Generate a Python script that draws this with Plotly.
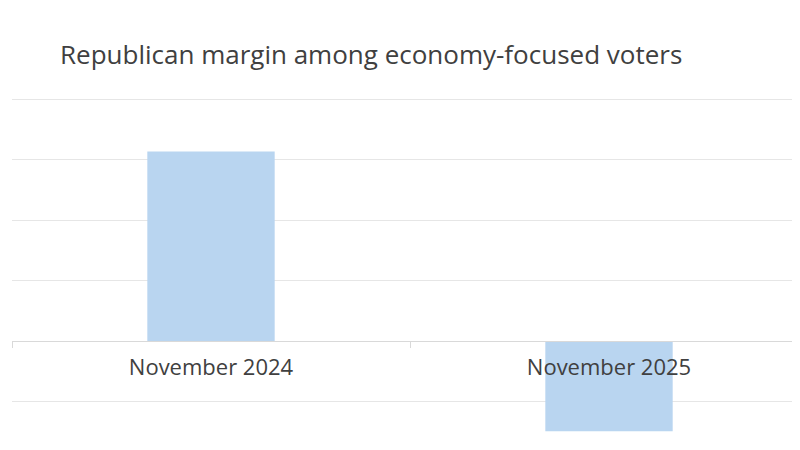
import plotly.graph_objects as go

periods = ["November 2024", "November 2025"]
margin_values = [31.4, -14.9]

fig = go.Figure(go.Bar(
    x=periods, y=margin_values,
    marker=dict(color="#b9d5f0", line=dict(width=0)),
))

fig.update_layout(
    width=800, height=450,
    title=dict(text="Republican margin among economy-focused voters",
               x=0.065, xanchor="left", y=0.895, yanchor="middle",
               font=dict(family="Open Sans, sans-serif", size=26, color="#404040")),
    margin=dict(l=4, r=0, t=89, b=20),
    bargap=0.68,
    plot_bgcolor="white", paper_bgcolor="white",
    showlegend=False,
    font=dict(family="Open Sans, sans-serif", size=22, color="#404040"),
)

fig.update_yaxes(range=[-16, 40.4], dtick=10, showticklabels=False,
                 gridcolor="#e6e6e6", gridwidth=1, zeroline=False)
fig.update_xaxes(anchor="free", position=16 / 56.4, showline=True,
                 linecolor="#d9d9d9", ticks="outside", tickson="boundaries",
                 ticklen=6, tickcolor="#d9d9d9", showgrid=False,
                 ticklabelstandoff=6)

fig.write_html("out.html")
